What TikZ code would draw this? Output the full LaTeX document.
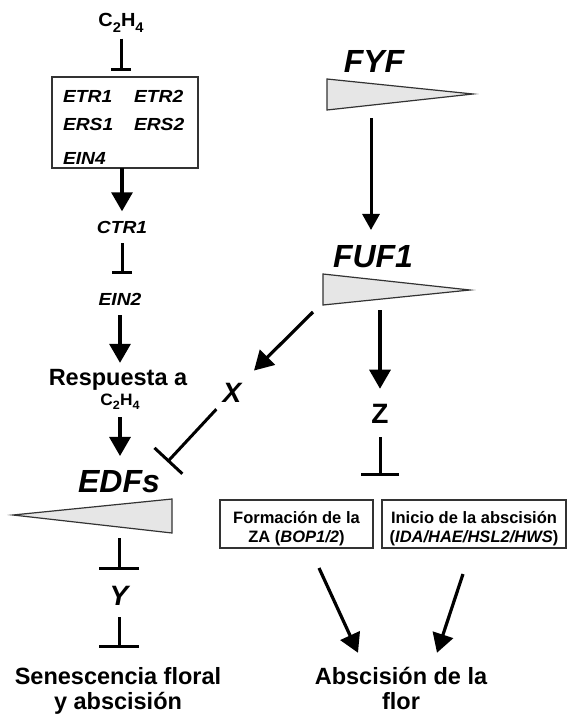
\documentclass[tikz,border=0pt]{standalone}
\usepackage{graphicx}
\usepackage{fontspec}
\setmainfont{Liberation Sans}
\usetikzlibrary{arrows.meta,calc}
\definecolor{wedgefill}{HTML}{E6E6E6}
\definecolor{wedgeline}{HTML}{333333}
\definecolor{boxline}{HTML}{333333}
\newcommand\gene[1]{\scalebox{1.1}[1]{\fontsize{17.5}{17.5}\selectfont\bfseries\itshape #1}}
\newcommand\ethy[3]{\scalebox{#3}[1]{\fontsize{#1}{#1}\selectfont\bfseries C\raisebox{-0.3em}{\fontsize{#2}{#2}\selectfont 2}H\raisebox{-0.3em}{\fontsize{#2}{#2}\selectfont 4}}}
\newcommand\lowtab[1]{\raisebox{-4.7pt}[\height][\depth]{\begin{tabular}{@{}c@{}}#1\end{tabular}}}
\begin{document}
\begin{tikzpicture}[x=1pt,y=-1pt,
  arr/.style={line width=3.2pt, -{Triangle[length=19pt,width=21pt]}},
  arrthin/.style={line width=3pt, -{Triangle[length=16pt,width=17pt]}},
  inh/.style={line width=3pt, -{Bar[width=#1]}}, inh/.default=20pt,
  lbl/.style={inner sep=0pt, outer sep=0pt, anchor=base, text=black},
  big/.style={lbl, font=\fontsize{32}{32}\selectfont\bfseries\itshape},
  med/.style={lbl, font=\fontsize{23.5}{23.5}\selectfont\bfseries},
  letter/.style={lbl, font=\fontsize{28}{28}\selectfont\bfseries\itshape},
  wedge/.style={fill=wedgefill, draw=wedgeline, line width=1.2pt, line join=miter},
  boxst/.style={draw=boxline, line width=1.3pt, minimum width=#1, minimum height=48pt, inner sep=0pt, outer sep=0pt, font=\fontsize{16.5}{19}\selectfont\bfseries}
]
\useasboundingbox (0,0) rectangle (568,717);
\fill[white] (0,0) rectangle (568,717);

% left column
\node[lbl] (c1) at (121,27) {\ethy{19}{14}{1.05}};
\node[draw=boxline, line width=1.3pt, minimum width=146pt, minimum height=91pt, inner sep=0pt, outer sep=0pt] (rec) at (125,122.5) {};
\node[lbl, anchor=base west] (etr1) at (63,102) {\gene{ETR1}};
\node[lbl, anchor=base west] (etr2) at (134,102) {\gene{ETR2}};
\node[lbl, anchor=base west] (ers1) at (63,130) {\gene{ERS1}};
\node[lbl, anchor=base west] (ers2) at (134,130) {\gene{ERS2}};
\node[lbl, anchor=base west] (ein4) at (63,164) {\gene{EIN4}};
\node[lbl] (ctr) at (122,233) {\gene{CTR1}};
\node[lbl] (ein2) at (120,305) {\gene{EIN2}};
\node[med] (resp) at (118,385) {Respuesta a};
\node[lbl] (c2) at (120,405) {\ethy{16.5}{12}{1.05}};
\node[big] (edfs) at (119,492) {EDFs};
\draw[wedge] (13,515) -- (172,499) -- (172,533) -- cycle;
\coordinate (edfw) at (119,538);
\node[letter] (yn) at (119,605) {Y};
\node[med] (sen1) at (118,684) {Senescencia floral};
\node[med] (sen2) at (118,709) {y abscisión};

% right column
\node[big] (fyf) at (374,72) {FYF};
\draw[wedge] (327,79) -- (473,94) -- (327,110) -- cycle;
\coordinate (fyfw) at (371,118);
\node[big] (fuf) at (373,267) {FUF1};
\draw[wedge] (323,274) -- (470,290) -- (323,305) -- cycle;
\coordinate (fufx) at (313,312);
\coordinate (fufz) at (380,310);
\node[letter] (xn) at (232,402) {X};
\node[letter, font=\fontsize{28}{28}\selectfont\bfseries] (zn) at (380,423) {Z};
\node[boxst=153pt] (bx1) at (296.5,524) {\lowtab{Formación de la\\ZA (\textit{BOP1/2})}};
\node[boxst=184pt] (bx2) at (474,524) {\lowtab{Inicio de la abscisión\\(\textit{IDA/HAE/HSL2/HWS})}};
\node[med] (ab1) at (401,684) {Abscisión de la};
\node[med] (ab2) at (401,709) {flor};

% connectors left
\draw[inh, shorten <=6pt, shorten >=6pt] (c1.south) -- (c1.south |- rec.north);
\draw[arr, shorten >=9.5pt] (ctr.north |- rec.south) -- (ctr.north);
\draw[inh, shorten <=10pt, shorten >=18.5pt] (ctr.south) -- (ctr.south |- ein2.north);
\draw[arr, shorten <=10pt, shorten >=6pt] (ein2.south) -- (ein2.south |- resp.north);
\draw[arr, shorten <=7.5pt, shorten >=14pt] (c2.south) -- (c2.south |- edfs.north);
\draw[inh=40pt, shorten >=16pt] (edfw) -- (edfw |- yn.north);
\draw[inh=40pt, shorten <=12pt, shorten >=19pt] (yn.south) -- (yn.south |- sen1.north);

% connectors right
\draw[arrthin, shorten >=15pt] (fyfw) -- (fyfw |- fuf.north);
\draw[arr, shorten >=31pt] (fufx) -- (xn.center);
\draw[inh=38pt, shorten <=23pt, shorten >=11pt] (xn.center) -- (edfs.north east);
\draw[arr, shorten >=15pt] (fufz) -- (fufz |- zn.north);
\draw[inh=38pt, shorten <=14pt, shorten >=24pt] (zn.south) -- (zn.south |- bx1.north);
\draw[arr] ($(bx1.south)+(22.5,20)$) -- ($(ab1.north)+(-43,-14)$);
\draw[arr] ($(bx2.south)+(-11,26)$) -- ($(ab1.north)+(36,-14)$);
\end{tikzpicture}
\end{document}
